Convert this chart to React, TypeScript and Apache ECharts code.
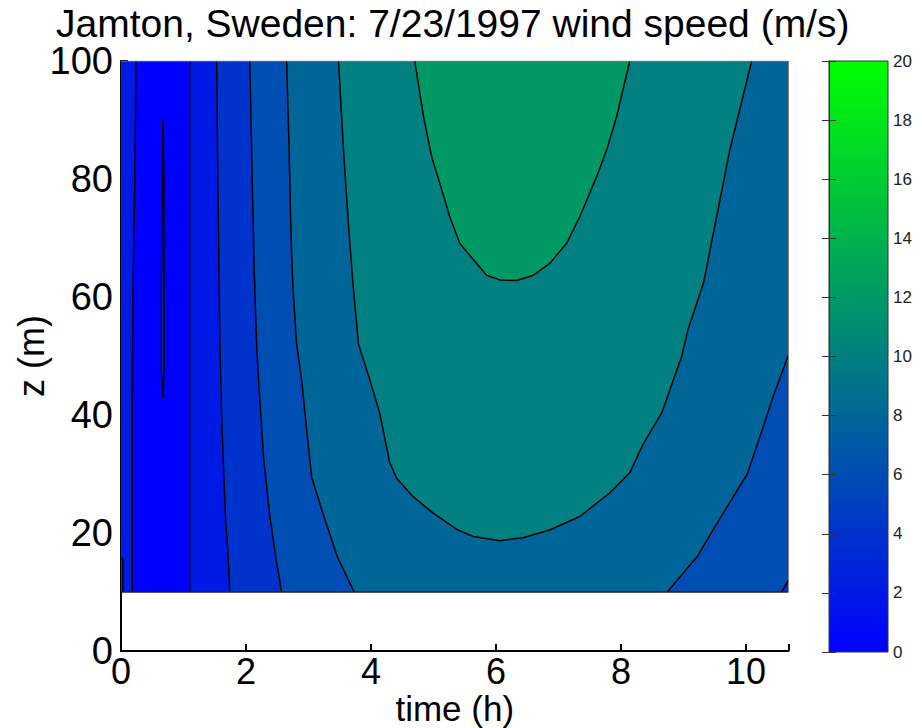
import React, { useEffect, useRef } from "react";
import * as echarts from "echarts";

// ---- data (time in h, height z in m) ----
const T_MAX = 10.68;
const Z_MIN = 10;
const Z_MAX = 100;
const xTicks = [0, 2, 4, 6, 8, 10];
const yTicks = [0, 20, 40, 60, 80, 100];
const colorbarTicks = [0, 2, 4, 6, 8, 10, 12, 14, 16, 18, 20];

// contour lines (level in m/s) as [t, z] points
const level2Left = [[0.24, 100], [0.22, 80], [0.19, 60], [0.18, 40], [0.18, 10]];
const level2Right = [[1.1, 100], [1.1, 10]];
const level2Loop = [[0.67, 90], [0.66, 80], [0.645, 60], [0.645, 48], [0.67, 43], [0.69, 48], [0.69, 60], [0.685, 80], [0.67, 90]];
const level4Left = [[1.53, 100], [1.55, 80], [1.58, 54], [1.61, 40], [1.67, 23], [1.71, 17], [1.74, 10]];
const level4Edge = [[0, 15.8], [0.03, 15.5], [0.03, 10]];
const level6Left = [[2.06, 100], [2.1, 80], [2.13, 65], [2.17, 52], [2.2, 46], [2.28, 33], [2.38, 23], [2.49, 15], [2.57, 10]];
const level6Right = [[10.57, 10], [10.68, 12]];
const level8Left = [[2.65, 100], [2.69, 85], [2.71, 75], [2.73, 67], [2.76, 60], [2.81, 52], [2.89, 46], [2.97, 37.5], [3.05, 29.5], [3.25, 22.7], [3.46, 16], [3.73, 10]];
const level8Right = [[8.74, 10], [9.22, 16], [9.47, 20.5], [10.02, 30], [10.26, 37.5], [10.43, 43], [10.68, 50.2]];
const level10 = [[3.48, 100], [3.56, 85], [3.63, 73.6], [3.71, 62.4], [3.8, 52], [3.98, 46], [4.14, 40.3], [4.3, 31.9], [4.41, 29.3], [4.67, 26.2], [4.99, 23.4], [5.39, 20.5], [5.64, 19.4], [6.06, 18.7], [6.43, 19.2], [6.86, 20.5], [7.34, 22.8], [7.82, 26.8], [8.14, 30.2], [8.36, 35.2], [8.65, 40.3], [8.97, 49.9], [9.07, 54.4], [9.32, 62.4], [9.53, 73.6], [9.74, 84.9], [10.09, 100]];
const level12 = [[4.7, 100], [4.84, 90.6], [4.97, 83.8], [5.1, 79.3], [5.26, 73.6], [5.42, 69.1], [5.64, 66.3], [5.85, 63.7], [6.06, 62.9], [6.33, 62.8], [6.6, 63.7], [6.86, 65.7], [7.13, 69.1], [7.34, 73.6], [7.61, 80.4], [7.77, 84.9], [7.93, 90.6], [8.14, 100]];

const FONT = "Liberation Sans, Arial, Helvetica, sans-serif";

// colormap: blue (0) -> green (20)
function colorOf(v: number) {
  const f = Math.max(0, Math.min(1, v / 20));
  return `rgb(0,${Math.round(255 * f)},${Math.round(255 * (1 - f))})`;
}

// filled regions, painted in order (each band colored by its lower level)
const regions: { pts: number[][]; level: number }[] = [
  { pts: [[0, Z_MIN], [0, Z_MAX], [T_MAX, Z_MAX], [T_MAX, Z_MIN]], level: 2 },
  { pts: [...level2Left, ...level2Right.slice().reverse()], level: 0 },
  { pts: level2Loop, level: 2 },
  { pts: [...level4Left, [T_MAX, Z_MIN], [T_MAX, Z_MAX]], level: 4 },
  { pts: [[0, Z_MIN], ...level4Edge], level: 4 },
  { pts: [...level6Left, ...level6Right, [T_MAX, Z_MAX]], level: 6 },
  { pts: [...level8Left, ...level8Right, [T_MAX, Z_MAX]], level: 8 },
  { pts: level10, level: 10 },
  { pts: level12, level: 12 },
];

const contourLines = [level2Left, level2Right, level2Loop, level4Left, level4Edge, level6Left, level6Right, level8Left, level8Right, level10, level12];

export default function App() {
  const ref = useRef<HTMLDivElement>(null);
  useEffect(() => {
    if (!ref.current) return;
    const chart = echarts.init(ref.current, null, { renderer: "svg" });
    const lineSeries = contourLines.map((pts) => ({
      type: "line",
      xAxisIndex: 0,
      yAxisIndex: 0,
      data: pts,
      symbol: "none",
      silent: true,
      z: 4,
      lineStyle: { color: "#000", width: 1.5 },
    }));
    chart.setOption({
      animation: false,
      backgroundColor: "#fff",
      title: {
        text: "Jamton, Sweden: 7/23/1997 wind speed (m/s)",
        left: 56,
        top: 3,
        padding: 0,
        textStyle: { fontFamily: FONT, fontSize: 39, lineHeight: 40, fontWeight: "normal", color: "#000" },
      },
      grid: [
        { left: 121, top: 61, width: 667.5, height: 590, outerBoundsMode: "none", containLabel: false },
        { left: 829, top: 61, width: 59, height: 591, outerBoundsMode: "none", containLabel: false },
      ],
      xAxis: [
        {
          type: "value",
          gridIndex: 0,
          min: 0,
          max: T_MAX,
          interval: 2,
          name: "time (h)",
          nameLocation: "middle",
          nameGap: 40,
          nameMoveOverlap: false,
          nameTextStyle: { fontFamily: FONT, fontSize: 35, lineHeight: 34, color: "#000" },
          axisLine: { lineStyle: { color: "#000", width: 2 } },
          axisTick: { inside: true, length: 7, lineStyle: { color: "#000", width: 2 } },
          axisLabel: {
            fontFamily: FONT,
            fontSize: 36,
            lineHeight: 28,
            color: "#000",
            margin: 6,
            formatter: (v: number) => (xTicks.includes(v) ? String(v) : ""),
          },
          splitLine: { show: false },
        },
        { type: "value", gridIndex: 1, min: 0, max: 1, show: false },
      ],
      yAxis: [
        {
          type: "value",
          gridIndex: 0,
          min: 0,
          max: 100,
          interval: 20,
          name: "z (m)",
          nameLocation: "middle",
          nameGap: 74,
          nameRotate: 90,
          nameMoveOverlap: false,
          nameTextStyle: { fontFamily: FONT, fontSize: 36, lineHeight: 32, color: "#000" },
          axisLine: { show: true, lineStyle: { color: "#000", width: 2 } },
          axisTick: { show: true, inside: true, length: 7, lineStyle: { color: "#000", width: 2 } },
          axisLabel: {
            fontFamily: FONT,
            fontSize: 38,
            lineHeight: 30,
            color: "#000",
            margin: 8,
            formatter: (v: number) => (yTicks.includes(v) ? String(v) : ""),
          },
          splitLine: { show: false },
        },
        {
          type: "value",
          gridIndex: 1,
          position: "right",
          min: 0,
          max: 20,
          interval: 2,
          z: 10,
          axisLine: { show: true, lineStyle: { color: "#333", width: 1 } },
          axisTick: { show: true, inside: true, length: 7, lineStyle: { color: "#333", width: 1 } },
          axisLabel: {
            fontFamily: FONT,
            fontSize: 17,
            color: "#222",
            margin: 5,
            formatter: (v: number) => (colorbarTicks.includes(v) ? String(v) : ""),
          },
          splitLine: { show: false },
        },
        {
          type: "value",
          gridIndex: 1,
          position: "left",
          min: 0,
          max: 20,
          interval: 2,
          z: 10,
          axisLine: { show: true, lineStyle: { color: "#333", width: 1 } },
          axisTick: { show: true, inside: true, length: 7, lineStyle: { color: "#333", width: 1 } },
          axisLabel: { show: false },
          splitLine: { show: false },
        },
      ],
      series: [
        {
          type: "custom",
          xAxisIndex: 0,
          yAxisIndex: 0,
          silent: true,
          z: 1,
          data: regions.map((_, i) => [i]),
          renderItem: (params: any, api: any) => {
            const r = regions[params.dataIndex];
            return {
              type: "polygon",
              shape: { points: r.pts.map((p) => api.coord(p)) },
              style: { fill: colorOf(r.level), stroke: null },
            };
          },
        },
        ...lineSeries,
        {
          type: "line",
          xAxisIndex: 0,
          yAxisIndex: 0,
          data: [[0, Z_MIN], [T_MAX, Z_MIN]],
          symbol: "none",
          silent: true,
          z: 5,
          lineStyle: { color: "#222", width: 1.5 },
        },
        {
          type: "line",
          xAxisIndex: 0,
          yAxisIndex: 0,
          data: [[T_MAX, Z_MIN], [T_MAX, Z_MAX], [0, Z_MAX]],
          symbol: "none",
          silent: true,
          z: 5,
          lineStyle: { color: "#888", width: 1 },
        },
        {
          type: "custom",
          xAxisIndex: 1,
          yAxisIndex: 1,
          silent: true,
          z: 1,
          data: [[0]],
          renderItem: (params: any, api: any) => {
            const p0 = api.coord([0, 0]);
            const p1 = api.coord([1, 20]);
            return {
              type: "rect",
              shape: { x: p0[0], y: p1[1], width: p1[0] - p0[0], height: p0[1] - p1[1] },
              style: {
                fill: new echarts.graphic.LinearGradient(0, 1, 0, 0, [
                  { offset: 0, color: colorOf(0) },
                  { offset: 1, color: colorOf(20) },
                ]),
                stroke: "#333",
                lineWidth: 1,
              },
            };
          },
        },
      ],
    });
    return () => chart.dispose();
  }, []);
  return (
    <div
      ref={ref}
      style={{ position: "absolute", left: 0, top: 0, width: 922, height: 728, background: "#fff" }}
    />
  );
}
